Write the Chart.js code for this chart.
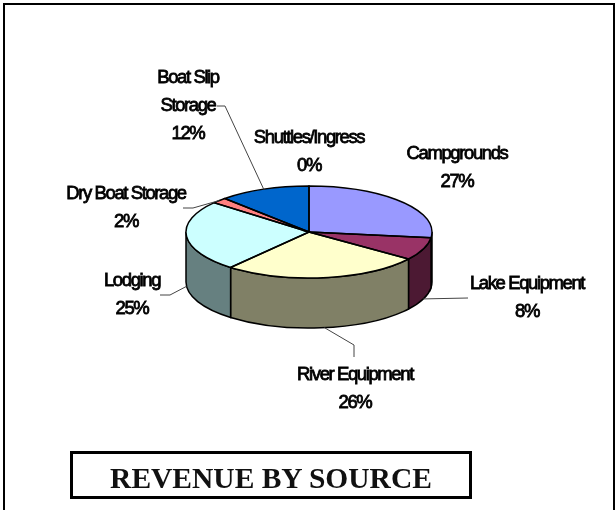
<!DOCTYPE html>
<html>
<head>
<meta charset="utf-8">
<title>Revenue by source</title>
<script src="https://cdn.jsdelivr.net/npm/chart.js@4"></script>
<style>
html, body { margin: 0; padding: 0; background: #fff; }
#wrap { position: relative; width: 615px; height: 510px; overflow: hidden; }
#frame { position: absolute; left: 3px; top: 3px; width: 612px; height: 520px; border: 2px solid #000; box-sizing: border-box; }
#title { position: absolute; left: 70px; top: 451px; width: 402px; height: 48px; border: 3px solid #000; box-sizing: border-box;
  font: bold 29.5px "Liberation Serif", serif; text-align: center; line-height: 48px; color: #111; }
canvas { position: absolute; left: 0; top: 0; }
</style>
</head>
<body>
<div id="wrap">
  <div id="frame"></div>
  <canvas id="myChart" width="615" height="510"></canvas>
  <div id="title">REVENUE BY SOURCE</div>
</div>
<script>
var categories = ['Campgrounds', 'Lake Equipment', 'River Equipment', 'Lodging', 'Dry Boat Storage', 'Boat Slip Storage', 'Shuttles/Ingress'];
var revenueShare = [27, 8, 26, 25, 2, 12, 0];

var topColors = ['#9999ff', '#993366', '#ffffcc', '#ccffff', '#ff8080', '#0066cc', '#ccccff'];
var sideColors = ['#4c4c80', '#4c1933', '#808066', '#668080', '#804040', '#003366', '#666680'];

// label centre and wrapped lines, leader knee points follow the label
var labelLayout = [
  { lines: ['Campgrounds'], x: 457, y: 153.5 },
  { lines: ['Lake Equipment'], x: 527, y: 283.5, leader: [[468, 298]], onSide: true },
  { lines: ['River Equipment'], x: 355, y: 374.5, leader: [[354, 357], [354, 345]], onSide: true },
  { lines: ['Lodging'], x: 132, y: 280.5, leader: [[160, 295], [170, 295]], onSide: true },
  { lines: ['Dry Boat Storage'], x: 126, y: 193.5, leader: [[183, 208], [193, 208]] },
  { lines: ['Boat Slip', 'Storage'], x: 188, y: 77.5, leader: [[217, 106], [225, 106]] },
  { lines: ['Shuttles/Ingress'], x: 309, y: 137.5 }
];

var tilt = 46 / 123;
var depth = 50;

function rimPath(c, arc, from, to, back, drop) {
  c.ellipse(arc.x, arc.y + (drop || 0), arc.outerRadius, arc.outerRadius * tilt, 0, from, to, !!back);
}

var tiltedPie = {
  id: 'tiltedPie',
  beforeDatasetsDraw: function (chart) {
    var c = chart.ctx;
    var arcs = chart.getDatasetMeta(0).data;
    // outer wall, only the front half can be seen
    arcs.forEach(function (arc, i) {
      var a0 = Math.max(arc.startAngle, 0);
      var a1 = Math.min(arc.endAngle, Math.PI);
      if (a1 <= a0) return;
      c.beginPath();
      rimPath(c, arc, a0, a1);
      rimPath(c, arc, a1, a0, true, depth);
      c.closePath();
      c.fillStyle = sideColors[i];
      c.fill();
      c.lineWidth = 1.5;
      c.strokeStyle = '#000';
      c.stroke();
    });
    c.save();
    var a = arcs[0];
    c.translate(0, a.y);
    c.scale(1, tilt);
    c.translate(0, -a.y);
  },
  afterDatasetsDraw: function (chart) {
    var c = chart.ctx;
    c.restore();
    var arcs = chart.getDatasetMeta(0).data;
    arcs.forEach(function (arc) {
      if (arc.endAngle - arc.startAngle <= 0) return;
      c.beginPath();
      c.moveTo(arc.x, arc.y);
      rimPath(c, arc, arc.startAngle, arc.endAngle);
      c.closePath();
      c.lineWidth = 1.5;
      c.strokeStyle = '#000';
      c.stroke();
    });
    drawLabels(chart, arcs);
  }
};

function drawLabels(chart, arcs) {
  var c = chart.ctx;
  c.textAlign = 'center';
  c.textBaseline = 'middle';
  c.fillStyle = '#000';
  c.font = '18.5px "Liberation Sans", Arial, sans-serif';
  c.letterSpacing = '-1.4px';
  c.strokeStyle = '#000';
  labelLayout.forEach(function (lab, i) {
    var rows = lab.lines.concat([revenueShare[i] + '%']);
    rows.forEach(function (row, r) {
      var y = lab.y + r * 28.3;
      c.lineWidth = 0.8;
      c.strokeText(row, lab.x, y);
      c.fillText(row, lab.x, y);
    });
    if (!lab.leader) return;
    // leader runs from the label to the middle of the slice rim
    var arc = arcs[i];
    var mid = (arc.startAngle + arc.endAngle) / 2;
    var ex = arc.x + arc.outerRadius * Math.cos(mid);
    var ey = arc.y + arc.outerRadius * tilt * Math.sin(mid) + (lab.onSide ? depth : 0);
    c.beginPath();
    lab.leader.forEach(function (p, k) {
      if (k === 0) c.moveTo(p[0], p[1]); else c.lineTo(p[0], p[1]);
    });
    c.lineTo(ex, ey);
    c.lineWidth = 1;
    c.strokeStyle = '#444';
    c.stroke();
    c.strokeStyle = '#000';
  });
}

var ctx = document.getElementById('myChart').getContext('2d');
var myChart = new Chart(ctx, {
  type: 'pie',
  data: {
    labels: categories,
    datasets: [{
      data: revenueShare,
      backgroundColor: topColors,
      borderWidth: 0
    }]
  },
  options: {
    responsive: false,
    animation: false,
    radius: 123,
    layout: { padding: { left: 186, right: 183, top: 109, bottom: 155 } },
    plugins: {
      legend: { display: false },
      tooltip: { enabled: false }
    }
  },
  plugins: [tiltedPie]
});
</script>
</body>
</html>
